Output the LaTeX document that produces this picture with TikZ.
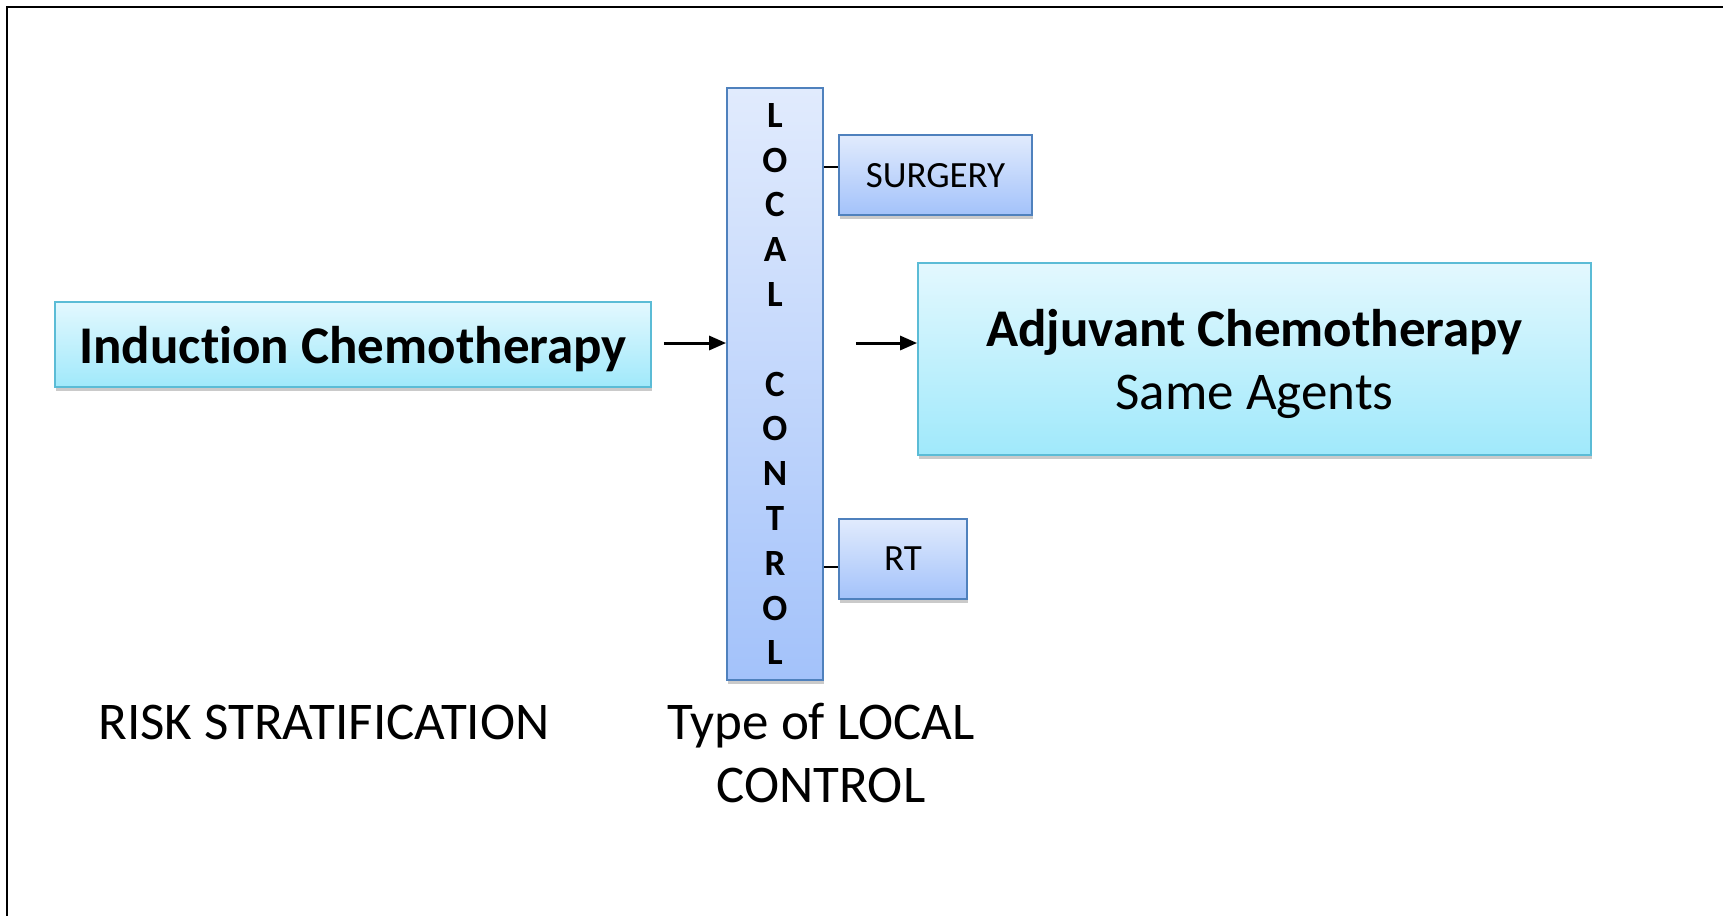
\documentclass[tikz,border=0pt]{standalone}
\usepackage{fontspec}
\setmainfont{Carlito}[Ligatures=NoCommon]
\usetikzlibrary{shadows,arrows.meta}
\definecolor{cyantop}{HTML}{E3F8FE}
\definecolor{cyanbot}{HTML}{A0E9FB}
\definecolor{cyanline}{HTML}{5BBCD6}
\definecolor{bluetop}{HTML}{E1EBFD}
\definecolor{bluebot}{HTML}{A3C2FA}
\definecolor{blueline}{HTML}{4F81BD}
\tikzset{
  cyanbox/.style={draw=cyanline, line width=1.8pt, top color=cyantop, bottom color=cyanbot,
    inner sep=0pt, align=center, text depth=0pt,
    drop shadow={shadow xshift=1pt, shadow yshift=-4pt, opacity=0.35, fill=black!60}},
  bluebox/.style={draw=blueline, line width=1.8pt, top color=bluetop, bottom color=bluebot,
    inner sep=0pt, align=center,
    drop shadow={shadow xshift=1pt, shadow yshift=-4pt, opacity=0.35, fill=black!60}},
  conn/.style={line width=3pt, -{Triangle[length=17pt,width=14pt]}},
  tie/.style={line width=1.8pt},
  bigfont/.style={font=\fontsize{53}{63}\selectfont},
  smallfont/.style={font=\fontsize{37}{44}\selectfont},
  labelfont/.style={font=\fontsize{53}{63}\selectfont, align=center, inner sep=0pt},
}
\begin{document}
\begin{tikzpicture}[x=1pt,y=-1pt]
\useasboundingbox (0,0) rectangle (1723,916);
\draw[line width=2.5pt] (1723,7) -- (7,7) -- (7,916);

\node[cyanbox, minimum width=596pt, minimum height=85pt, bigfont] (ind) at (353,344.5) {\textbf{Induction Chemotherapy}};
\node[bluebox, minimum width=96pt, minimum height=592pt, font=\fontsize{37}{44.8}\selectfont\bfseries] (loc) at (775,384)
  {L\\O\\C\\A\\L\\\mbox{}\\C\\O\\N\\T\\R\\O\\L};
\node[bluebox, minimum width=193pt, minimum height=80pt, smallfont, text depth=0pt] (surg) at (935.5,175) {SURGERY};
\node[bluebox, minimum width=128pt, minimum height=80pt, smallfont, text depth=0pt] (rt) at (903,559) {RT};
\node[cyanbox, minimum width=673pt, minimum height=192pt, bigfont] (adj) at (1254.5,359)
  {\textbf{Adjuvant Chemotherapy}\\Same Agents};

\node[labelfont] (risk) at (324,722) {RISK STRATIFICATION};
\node[labelfont] (type) at (821,753) {Type of LOCAL\\CONTROL};

\draw[conn, shorten <=12pt] (ind.east |- 0,343) -- (loc.west |- 0,343);
\draw[conn, shorten <=32pt] (loc.east |- 0,343) -- (adj.west |- 0,343);
\draw[tie] ([yshift=8pt]surg.west -| loc.east) -- ([yshift=8pt]surg.west);
\draw[tie] ([yshift=-8pt]rt.west -| loc.east) -- ([yshift=-8pt]rt.west);
\end{tikzpicture}
\end{document}
